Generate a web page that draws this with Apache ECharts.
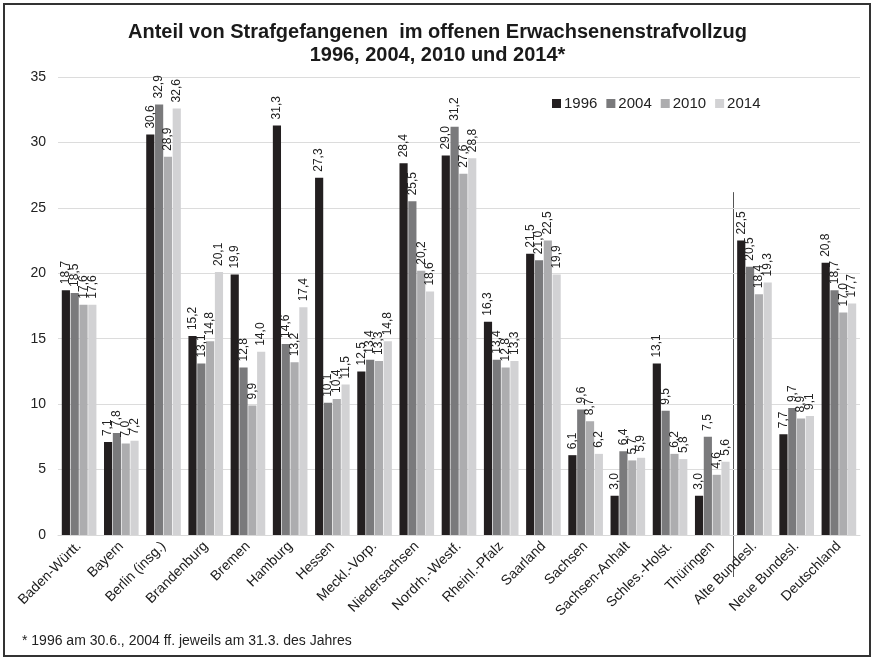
<!DOCTYPE html>
<html>
<head>
<meta charset="utf-8">
<script src="https://cdn.jsdelivr.net/npm/echarts@6/dist/echarts.min.js"></script>
<style>
  html, body { margin: 0; padding: 0; background: #fff; }
  #chart { width: 875px; height: 659px; }
</style>
</head>
<body>
<div id="chart"></div>
<script>
// Länder und Aggregate
const categories = [
  'Baden-Württ.', 'Bayern', 'Berlin (insg.)', 'Brandenburg', 'Bremen', 'Hamburg',
  'Hessen', 'Meckl.-Vorp.', 'Niedersachsen', 'Nordrh.-Westf.', 'Rheinl.-Pfalz',
  'Saarland', 'Sachsen', 'Sachsen-Anhalt', 'Schles.-Holst.', 'Thüringen',
  'Alte Bundesl.', 'Neue Bundesl.', 'Deutschland'
];

// Anteil in Prozent je Stichjahr
const v1996 = [18.7, 7.1, 30.6, 15.2, 19.9, 31.3, 27.3, 12.5, 28.4, 29.0, 16.3, 21.5, 6.1, 3.0, 13.1, 3.0, 22.5, 7.7, 20.8];
const v2004 = [18.5, 7.8, 32.9, 13.1, 12.8, 14.6, 10.1, 13.4, 25.5, 31.2, 13.4, 21.0, 9.6, 6.4, 9.5, 7.5, 20.5, 9.7, 18.7];
const v2010 = [17.6, 7.0, 28.9, 14.8, 9.9, 13.2, 10.4, 13.3, 20.2, 27.6, 12.8, 22.5, 8.7, 5.7, 6.2, 4.6, 18.4, 8.9, 17.0];
const v2014 = [17.6, 7.2, 32.6, 20.1, 14.0, 17.4, 11.5, 14.8, 18.6, 28.8, 13.3, 19.9, 6.2, 5.9, 5.8, 5.6, 19.3, 9.1, 17.7];

const years = ['1996', '2004', '2010', '2014'];
const yTicks = [0, 5, 10, 15, 20, 25, 30, 35];

const seriesData = [v1996, v2004, v2010, v2014];
const colors = ['#231f20', '#7a7a7c', '#adadaf', '#d2d2d4'];
const FONT = '"Liberation Sans", Arial, sans-serif';

const chart = echarts.init(document.getElementById('chart'), null, { renderer: 'canvas' });

const fmt = v => v.toFixed(1).replace('.', ',');

const option = {
  animation: false,
  backgroundColor: '#fff',
  textStyle: { fontFamily: FONT },
  title: {
    text: 'Anteil von Strafgefangenen  im offenen Erwachsenenstrafvollzug\n1996, 2004, 2010 und 2014*',
    left: 'center',
    top: 16,
    textStyle: { fontFamily: FONT, fontSize: 20, fontWeight: 'bold', color: '#1a1a1a', lineHeight: 23 }
  },
  legend: {
    data: years,
    left: 547,
    top: 91,
    icon: 'rect',
    itemWidth: 9,
    itemHeight: 9,
    itemGap: 9,
    textStyle: { fontFamily: FONT, fontSize: 15, color: '#222', padding: [0, 0, 0, -2] }
  },
  grid: { left: 58, right: 15, top: 77, bottom: 124, containLabel: false },
  xAxis: {
    type: 'category',
    data: categories,
    axisLine: { show: true, lineStyle: { color: '#d9d9d9', width: 1 } },
    axisTick: { show: false },
    axisLabel: {
      rotate: 45,
      interval: 0,
      fontFamily: FONT,
      fontSize: 14,
      color: '#1a1a1a',
      margin: 9
    }
  },
  yAxis: {
    type: 'value',
    min: yTicks[0],
    max: yTicks[yTicks.length - 1],
    interval: 5,
    axisLine: { show: false },
    axisTick: { show: false },
    splitLine: { lineStyle: { color: '#dcdcdc', width: 1 } },
    axisLabel: { fontFamily: FONT, fontSize: 14, color: '#222', margin: 12 }
  },
  series: years.map((y, i) => ({
    name: y,
    type: 'bar',
    data: seriesData[i],
    barGap: '8%',
    barCategoryGap: '18%',
    itemStyle: { color: colors[i] },
    label: {
      show: true,
      position: 'top',
      rotate: 90,
      align: 'left',
      verticalAlign: 'middle',
      distance: 6,
      fontFamily: FONT,
      fontSize: 12,
      color: '#222',
      formatter: p => fmt(p.value)
    }
  })),
  graphic: [
    {
      type: 'rect',
      shape: { x: 4, y: 4, width: 866, height: 652 },
      style: { fill: 'none', stroke: '#333', lineWidth: 2 },
      silent: true
    },
    {
      type: 'text',
      left: 22,
      top: 634,
      style: {
        text: '* 1996 am 30.6., 2004 ff. jeweils am 31.3. des Jahres',
        font: '14px ' + FONT,
        fill: '#222'
      }
    }
  ]
};

chart.setOption(option);

// Trennlinie zwischen Ländern und Aggregaten
const xa = chart.convertToPixel({ xAxisIndex: 0 }, 15);
const xb = chart.convertToPixel({ xAxisIndex: 0 }, 16);
const sepX = Math.round((xa + xb) / 2) + 0.5;
const yTop = chart.convertToPixel({ yAxisIndex: 0 }, 26.2);
const yZero = chart.convertToPixel({ yAxisIndex: 0 }, 0);
option.graphic.push({
  type: 'line',
  shape: { x1: sepX, y1: yTop, x2: sepX, y2: yZero + 42 },
  style: { stroke: '#555', lineWidth: 1 },
  silent: true
});
chart.setOption({ graphic: option.graphic });
</script>
</body>
</html>
